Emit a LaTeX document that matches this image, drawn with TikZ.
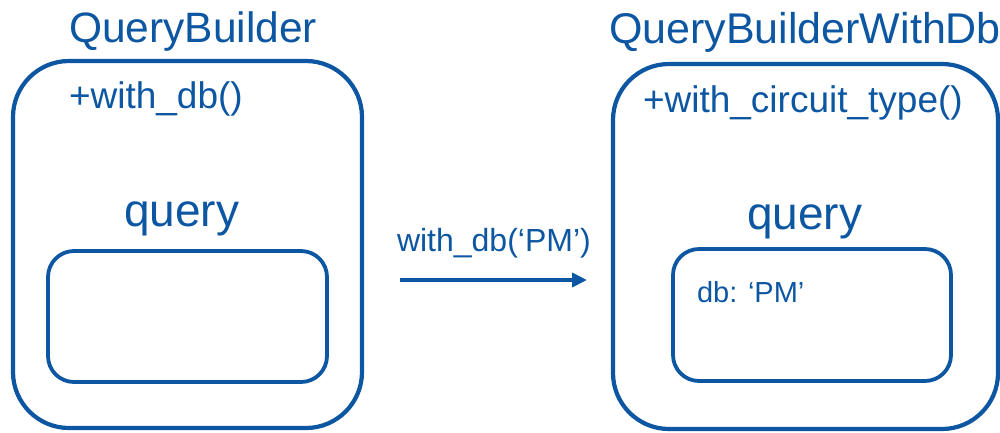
\documentclass[tikz,border=0pt]{standalone}
\usepackage{fontspec}
\setmainfont{Liberation Sans}
\usetikzlibrary{arrows.meta}
\definecolor{qblue}{RGB}{12,86,162}
\tikzset{
  outerbox/.style={draw=qblue, line width=4.2pt, rounded corners=56pt},
  innerbox/.style={draw=qblue, line width=3.8pt, rounded corners=26pt},
  lbl/.style={text=qblue, anchor=base west, inner sep=0pt, outer sep=0pt},
  flow/.style={draw=qblue, line width=4pt, -{Triangle[length=15pt,width=14pt]}}
}
\begin{document}
\begin{tikzpicture}[x=1pt,y=-1pt]
  \useasboundingbox (0,0) rectangle (1000,432);

  % left object: QueryBuilder
  \draw[outerbox] (13,61) rectangle (362,428);
  \draw[innerbox] (48,251) rectangle (327,382);
  \node[lbl, font=\fontsize{42.5}{48}\selectfont] (t1) at (69,42) {QueryBuilder};
  \node[lbl, font=\fontsize{37}{42}\selectfont] (m1) at (69,108) {+with\_db()};
  \node[lbl, font=\fontsize{46}{52}\selectfont] (q1) at (124,226) {query};

  % right object: QueryBuilderWithDb
  \draw[outerbox] (613,64) rectangle (998,429);
  \draw[innerbox] (673,249) rectangle (951,381);
  \node[lbl, font=\fontsize{43}{48}\selectfont] (t2) at (609,43) {QueryBuilderWithDb};
  \node[lbl, font=\fontsize{37}{42}\selectfont] (m2) at (643,112) {+with\_circuit\_type()};
  \node[lbl, font=\fontsize{46}{52}\selectfont] (q2) at (747,229) {query};
  \node[lbl, font=\fontsize{29}{34}\selectfont] (f2) at (697,302) {db: ‘PM’};

  % transition
  \node[lbl, font=\fontsize{32}{38}\selectfont] (call) at (397,251) {with\_db(‘PM’)};
  \coordinate (a) at (400,280);
  \coordinate (b) at (587,280);
  \draw[flow] (a) -- (b);
\end{tikzpicture}
\end{document}
